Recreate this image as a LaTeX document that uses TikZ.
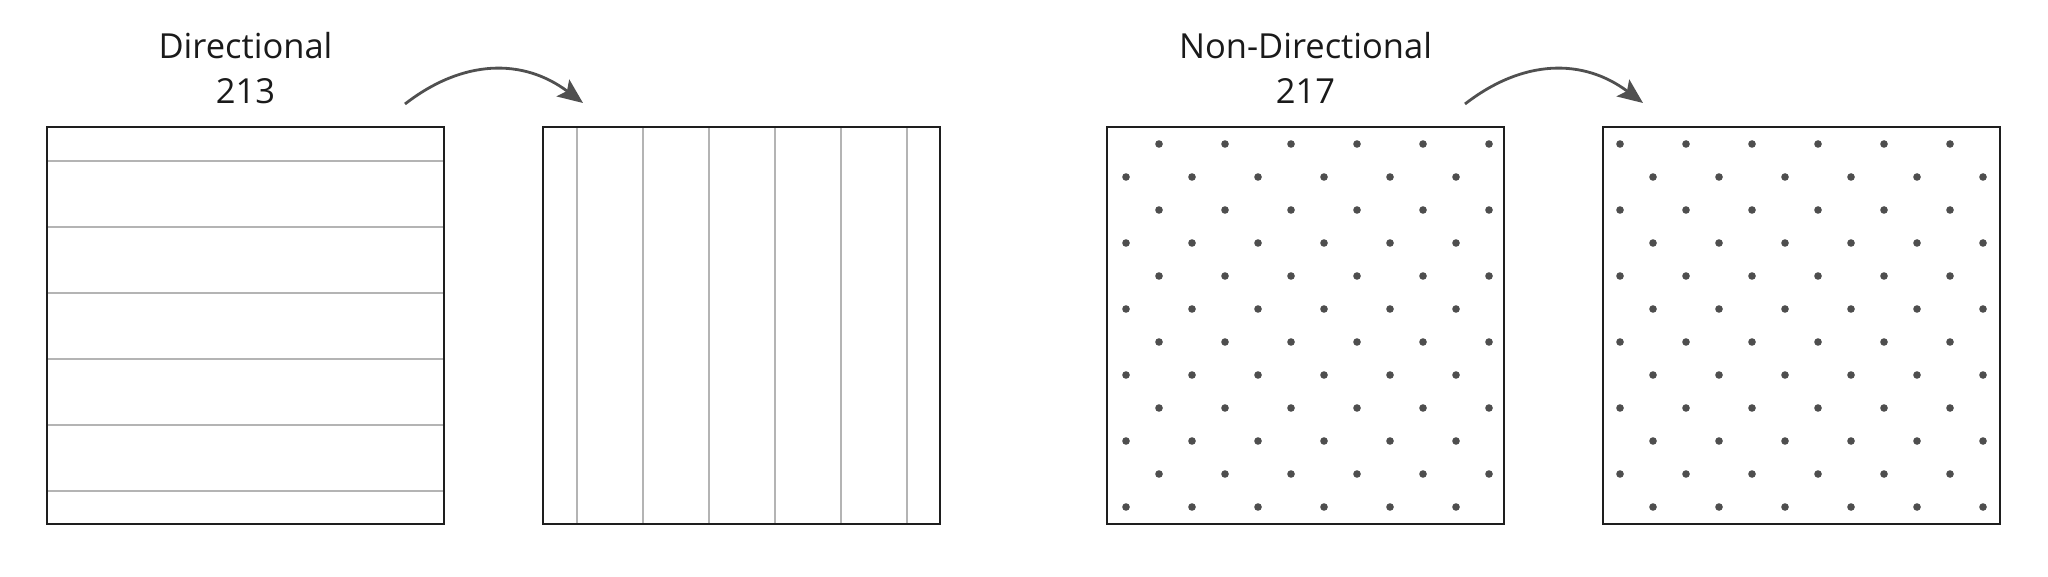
\documentclass[tikz,border=0pt]{standalone}
\usepackage{fontspec}
\setmainfont{Open Sans}
\usetikzlibrary{arrows.meta}
\definecolor{boxc}{HTML}{1E1E1E}
\definecolor{linec}{HTML}{B4B4B4}
\definecolor{dotc}{HTML}{4E4E4E}
\definecolor{arrc}{HTML}{505050}
\definecolor{txtc}{HTML}{1A1A1A}
\tikzset{
  panel/.style={draw=boxc, line width=2.5pt, minimum width=397pt, minimum height=397pt, inner sep=0pt},
  hatch/.style={draw=linec, line width=2pt},
  dotmark/.style={fill=dotc},
  swoop/.style={draw=arrc, line width=2.8pt, -{Stealth[length=25pt,width=21pt,inset=5pt]}},
  title/.style={font=\fontsize{34.5}{40}\selectfont, text=txtc, anchor=base, inner sep=0pt}
}
\begin{document}
\begin{tikzpicture}[x=1pt,y=-1pt]
\useasboundingbox (0,0) rectangle (2048,577);
% titles
\node[title] (t1a) at (245.5,59) {Directional};
\node[title] (t1b) at (245.5,104) {213};
\node[title] (t2a) at (1305.5,59) {Non-Directional};
\node[title] (t2b) at (1305.5,104) {217};
% panel 1: horizontal lines
\foreach \k in {0,...,5} {
  \draw[hatch] (47,161+66*\k) -- (444,161+66*\k);
}
% panel 2: vertical lines
\foreach \k in {0,...,5} {
  \draw[hatch] (577+66*\k,127) -- (577+66*\k,524);
}
% panel 3 dots
\foreach \j in {0,...,11} {
  \pgfmathsetmacro{\yy}{144+33*\j}
  \pgfmathsetmacro{\xo}{isodd(\j) ? 1126 : 1159}
  \foreach \k in {0,...,5} {
    \fill[dotmark] (\xo+66*\k,\yy) circle (3.8pt);
  }
}
% panel 4 dots
\foreach \j in {0,...,11} {
  \pgfmathsetmacro{\yy}{144+33*\j}
  \pgfmathsetmacro{\xo}{isodd(\j) ? 1653 : 1620}
  \foreach \k in {0,...,5} {
    \fill[dotmark] (\xo+66*\k,\yy) circle (3.8pt);
  }
}
% panels
\node[panel] (p1) at (245.5,325.5) {};
\node[panel] (p2) at (741.5,325.5) {};
\node[panel] (p3) at (1305.5,325.5) {};
\node[panel] (p4) at (1801.5,325.5) {};
% arrows
\coordinate (a1s) at (405,104);
\coordinate (a1e) at (583,103);
\coordinate (a2s) at (1465,104);
\coordinate (a2e) at (1643,103);
\draw[swoop] (a1s) .. controls (463,59) and (523,58) .. (a1e);
\draw[swoop] (a2s) .. controls (1523,59) and (1583,58) .. (a2e);
\end{tikzpicture}
\end{document}
